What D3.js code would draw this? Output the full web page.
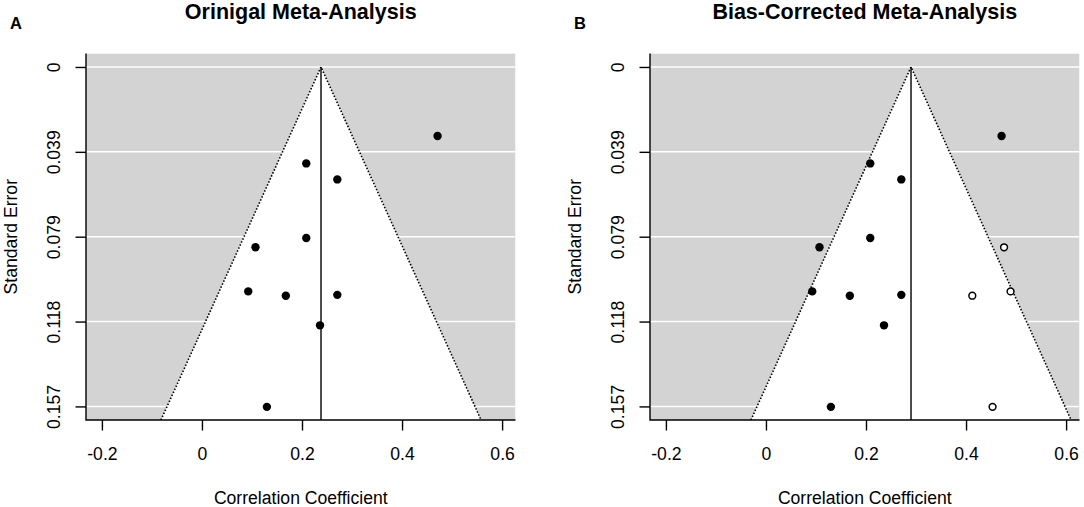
<!DOCTYPE html>
<html lang="en">
<head>
    <meta charset="UTF-8">
    <title>Funnel Plots</title>
    <style>
        body {
            margin: 0;
            background-color: #ffffff;
        }
        svg {
            display: block;
            font-family: "Liberation Sans", Arial, sans-serif;
        }
    </style>
    <script src="https://d3js.org/d3.v7.min.js"></script>
</head>
<body>
    <svg width="1084" height="507"></svg>
    <script>
        // observed studies (same in both panels)
        const studyR  = [0.471, 0.2085, 0.2706, 0.2085, 0.107, 0.0925, 0.1677, 0.2706, 0.236, 0.1298];
        const studySE = [0.0319, 0.0446, 0.0520, 0.0791, 0.0834, 0.1038, 0.1058, 0.1054, 0.1195, 0.1572];

        // studies imputed by trim-and-fill (right panel only)
        const filledR  = [0.476, 0.4125, 0.489, 0.453];
        const filledSE = [0.0834, 0.1058, 0.1038, 0.1572];

        // pooled estimates
        const pooledEstimates = [0.238, 0.290];

        const panelTitles = ["Orinigal Meta-Analysis", "Bias-Corrected Meta-Analysis"];
        const panelLetters = ["A", "B"];

        const xTicks = [-0.2, 0, 0.2, 0.4, 0.6];
        const xTickLabels = ["-0.2", "0", "0.2", "0.4", "0.6"];
        const seTicks = [0, 0.03925, 0.0785, 0.11775, 0.157];
        const seTickLabels = ["0", "0.039", "0.079", "0.118", "0.157"];

        const svg = d3.select("svg");

        const xDomain = [-0.2318, 0.6268];
        const yDomain = [-0.00628, 0.16328];
        const plotTop = 53.4, plotBottom = 420;
        const panelLeft = [86, 650];
        const plotWidth = 429.5;

        function drawPanel(i) {
            const x0 = panelLeft[i], x1 = x0 + plotWidth;
            const est = pooledEstimates[i];
            const x = d3.scaleLinear().domain(xDomain).range([x0, x1]);
            const y = d3.scaleLinear().domain(yDomain).range([plotTop, plotBottom]);
            const g = svg.append("g");

            const clipId = "clip" + i;
            svg.append("clipPath").attr("id", clipId)
                .append("rect")
                .attr("x", x0).attr("y", plotTop)
                .attr("width", plotWidth).attr("height", plotBottom - plotTop);

            const plot = g.append("g").attr("clip-path", "url(#" + clipId + ")");

            plot.append("rect")
                .attr("x", x0).attr("y", plotTop)
                .attr("width", plotWidth).attr("height", plotBottom - plotTop)
                .attr("fill", "#d3d3d3");

            // white reference lines at the se ticks
            plot.selectAll("line.hline")
                .data(seTicks)
                .join("line")
                .attr("class", "hline")
                .attr("x1", x0).attr("x2", x1)
                .attr("y1", d => y(d)).attr("y2", d => y(d))
                .attr("stroke", "#ffffff")
                .attr("stroke-width", 1.5);

            // pseudo confidence region
            const seMax = yDomain[1];
            const funnel = [[est - 1.96 * seMax, seMax], [est, 0], [est + 1.96 * seMax, seMax]];
            plot.append("polygon")
                .attr("points", funnel.map(p => x(p[0]) + "," + y(p[1])).join(" "))
                .attr("fill", "#ffffff");

            plot.append("polyline")
                .attr("points", funnel.map(p => x(p[0]) + "," + y(p[1])).join(" "))
                .attr("fill", "none")
                .attr("stroke", "#000")
                .attr("stroke-width", 1.6)
                .attr("stroke-dasharray", "1.5,1.8");

            plot.append("line")
                .attr("x1", x(est)).attr("x2", x(est))
                .attr("y1", y(0)).attr("y2", plotBottom)
                .attr("stroke", "#000")
                .attr("stroke-width", 1.4);

            // observed studies
            plot.selectAll("circle.obs")
                .data(d3.range(studyR.length))
                .join("circle")
                .attr("class", "obs")
                .attr("cx", k => x(studyR[k]))
                .attr("cy", k => y(studySE[k]))
                .attr("r", 4.2)
                .attr("fill", "#000");

            if (i === 1) {
                plot.selectAll("circle.fill")
                    .data(d3.range(filledR.length))
                    .join("circle")
                    .attr("class", "fill")
                    .attr("cx", k => x(filledR[k]))
                    .attr("cy", k => y(filledSE[k]))
                    .attr("r", 3.4)
                    .attr("fill", "#fff")
                    .attr("stroke", "#000")
                    .attr("stroke-width", 1.5);
            }

            // L-shaped box
            g.append("path")
                .attr("d", `M${x0},${plotTop}V${plotBottom}H${x1}`)
                .attr("fill", "none")
                .attr("stroke", "#000")
                .attr("stroke-width", 1.4);

            // x axis
            const xAxis = d3.axisBottom(x)
                .tickValues(xTicks)
                .tickFormat((d, k) => xTickLabels[k])
                .tickSizeOuter(0)
                .tickSize(10.5);
            const xa = g.append("g")
                .attr("transform", `translate(0,${plotBottom})`)
                .call(xAxis);
            xa.select(".domain").remove();
            xa.selectAll(".tick line").attr("stroke-width", 1.4);
            xa.selectAll(".tick text")
                .attr("font-size", "17.6px")
                .attr("font-family", "Liberation Sans, Arial, sans-serif")
                .attr("fill", "#000")
                .attr("dy", null)
                .attr("y", 40);

            // y axis
            const yAxis = d3.axisLeft(y)
                .tickValues(seTicks)
                .tickFormat((d, k) => seTickLabels[k])
                .tickSizeOuter(0)
                .tickSize(10.5);
            const ya = g.append("g")
                .attr("transform", `translate(${x0},0)`)
                .call(yAxis);
            ya.select(".domain").remove();
            ya.selectAll(".tick line").attr("stroke-width", 1.4);
            ya.selectAll(".tick text")
                .attr("font-size", "17.6px")
                .attr("font-family", "Liberation Sans, Arial, sans-serif")
                .attr("fill", "#000")
                .attr("x", null).attr("dy", null)
                .attr("text-anchor", "middle")
                .attr("transform", "translate(-26,0) rotate(-90)");

            // axis titles
            g.append("text")
                .attr("x", (x0 + x1) / 2)
                .attr("y", 503.5)
                .attr("text-anchor", "middle")
                .attr("font-size", "17.6px")
                .text("Correlation Coefficient");

            g.append("text")
                .attr("transform", `translate(${x0 - 69.3},${(plotTop + plotBottom) / 2}) rotate(-90)`)
                .attr("text-anchor", "middle")
                .attr("font-size", "17.6px")
                .text("Standard Error");

            g.append("text")
                .attr("x", (x0 + x1) / 2)
                .attr("y", 18.5)
                .attr("text-anchor", "middle")
                .attr("font-size", "21.5px")
                .attr("font-weight", "bold")
                .text(panelTitles[i]);

            g.append("text")
                .attr("x", x0 - 76)
                .attr("y", 29.3)
                .attr("font-size", "16.5px")
                .attr("font-weight", "bold")
                .text(panelLetters[i]);
        }

        drawPanel(0);
        drawPanel(1);
    </script>
</body>
</html>
